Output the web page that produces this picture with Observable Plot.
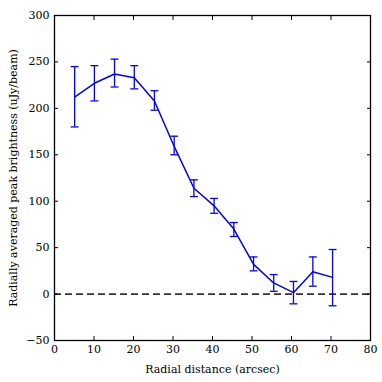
<!DOCTYPE html>
<html><head><meta charset="utf-8">
<script src="https://cdn.jsdelivr.net/npm/d3@7"></script>
<script src="https://cdn.jsdelivr.net/npm/@observablehq/plot@0.6"></script>
<style>body{margin:0;background:#fff} svg text{font-family:'DejaVu Serif',serif !important;}</style>
</head><body><div id="chart"></div>
<script>
const radius = [5.1, 10.1, 15.2, 20.2, 25.3, 30.3, 35.3, 40.4, 45.4, 50.4, 55.5, 60.5, 65.4, 70.4];
const brightness = [212, 227, 237, 233, 208, 159, 114, 95, 70, 32, 12, 1.5, 24, 18];
const errLow = [180, 208, 223, 221, 198, 150, 105, 87, 62, 25, 3, -10.5, 8.5, -12.6];
const errHigh = [245, 246, 253, 246, 219, 170, 123, 103, 77, 40, 21, 13.6, 40, 48];
const xTicks = [0, 10, 20, 30, 40, 50, 60, 70, 80];
const yTicks = [-50, 0, 50, 100, 150, 200, 250, 300];
const baseline = [0];

const data = radius.map((r, i) => ({x: r, y: brightness[i], lo: errLow[i], hi: errHigh[i]}));
const fmt = d => d < 0 ? "\u2212" + Math.abs(d) : String(d);
const blue = "#0000ff";
const cap = 1.0;

const chart = Plot.plot({
  width: 382, height: 382,
  marginLeft: 54, marginRight: 12, marginTop: 15, marginBottom: 42,
  style: {fontFamily: "'DejaVu Serif', serif", fontSize: "11px", color: "#000", background: "#fff"},
  x: {domain: [0, 80]},
  y: {domain: [-50, 300]},
  marks: [
    Plot.ruleY(baseline, {stroke: "#333", strokeWidth: 1.8, strokeDasharray: "7,4"}),
    Plot.ruleX(data, {x: "x", y1: "lo", y2: "hi", stroke: blue, strokeWidth: 1.3}),
    Plot.link(data, {x1: d => d.x - cap, x2: d => d.x + cap, y1: "hi", y2: "hi", stroke: blue, strokeWidth: 1.3}),
    Plot.link(data, {x1: d => d.x - cap, x2: d => d.x + cap, y1: "lo", y2: "lo", stroke: blue, strokeWidth: 1.3}),
    Plot.line(data, {x: "x", y: "y", stroke: blue, strokeWidth: 1.5}),
    Plot.axisX(xTicks, {anchor: "bottom", tickSize: 0, tickPadding: 5, tickFormat: fmt, fontSize: 11,
      label: "Radial distance (arcsec)", labelAnchor: "center", labelArrow: "none", labelOffset: 32}),
    Plot.axisX(xTicks, {anchor: "bottom", tickSize: -4, tickFormat: () => "", label: null, stroke: "#000"}),
    Plot.axisX(xTicks, {anchor: "top", tickSize: -4, tickFormat: () => "", label: null, stroke: "#000"}),
    Plot.axisY(yTicks, {anchor: "left", tickSize: 0, tickPadding: 5, tickFormat: fmt, fontSize: 11,
      label: "Radially averaged peak brightness (uJy/beam)", labelAnchor: "center", labelArrow: "none", labelOffset: 45}),
    Plot.axisY(yTicks, {anchor: "left", tickSize: -4, tickFormat: () => "", label: null, stroke: "#000"}),
    Plot.axisY(yTicks, {anchor: "right", tickSize: -4, tickFormat: () => "", label: null, stroke: "#000"}),
    Plot.frame({stroke: "#000", strokeWidth: 1.3})
  ]
});
document.getElementById("chart").appendChild(chart);
</script>
</body></html>
